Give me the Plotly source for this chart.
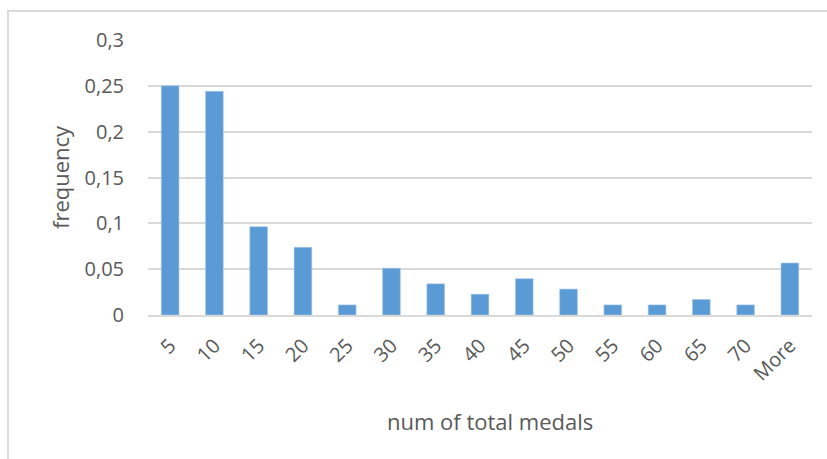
import plotly.graph_objects as go

categories = ["5", "10", "15", "20", "25", "30", "35", "40", "45", "50", "55", "60", "65", "70", "More"]
frequency = [0.25, 0.244, 0.0964, 0.0738, 0.011, 0.051, 0.034, 0.0227, 0.0396, 0.0283, 0.011, 0.011, 0.017, 0.011, 0.0567]
ytick_vals = [0, 0.05, 0.1, 0.15, 0.2, 0.25, 0.3]
ytick_text = ["0", "0,05", "0,1", "0,15", "0,2", "0,25", "0,3"]

FONT = "Open Sans"
TXT = "#595959"
GRID = "#D9D9D9"

W, H = 827, 459
L, R, T, B = 148, 15, 40, 144
pw, ph = W - L - R, H - T - B

def px(x):
    return (x - L) / pw

def py(y):
    return (H - B - y) / ph

fig = go.Figure(go.Bar(
    x=categories, y=frequency,
    marker=dict(color="#5B9BD5", line=dict(color="#A9C8EA", width=0.6)),
))

fig.update_layout(
    width=W, height=H,
    margin=dict(l=L, r=R, t=T, b=B),
    paper_bgcolor="white", plot_bgcolor="white",
    bargap=0.6,
    showlegend=False,
    font=dict(family=FONT, size=20, color=TXT),
    xaxis=dict(type="category", tickangle=-45, showgrid=False,
               showline=True, linecolor=GRID, linewidth=2,
               tickfont=dict(family=FONT, size=20, color=TXT),
               ticklabelstandoff=9),
    yaxis=dict(range=[0, 0.3], tickvals=ytick_vals, ticktext=ytick_text,
               showgrid=True, gridcolor=GRID, gridwidth=2, zeroline=False,
               tickfont=dict(family=FONT, size=20, color=TXT),
               ticklabelstandoff=23),
    annotations=[
        dict(text="frequency", xref="paper", yref="paper", x=px(60), y=py(177),
             textangle=-90, showarrow=False, xanchor="center", yanchor="middle",
             font=dict(family=FONT, size=22, color=TXT)),
        dict(text="num of total medals", xref="paper", yref="paper", x=px(490), y=py(421),
             showarrow=False, xanchor="center", yanchor="middle",
             font=dict(family=FONT, size=22, color=TXT)),
    ],
    shapes=[
        dict(type="rect", xref="paper", yref="paper",
             x0=px(8), x1=px(835), y0=py(470), y1=py(11),
             line=dict(color=GRID, width=2), fillcolor="rgba(0,0,0,0)", layer="below"),
    ],
)

fig.write_html("out.html")
